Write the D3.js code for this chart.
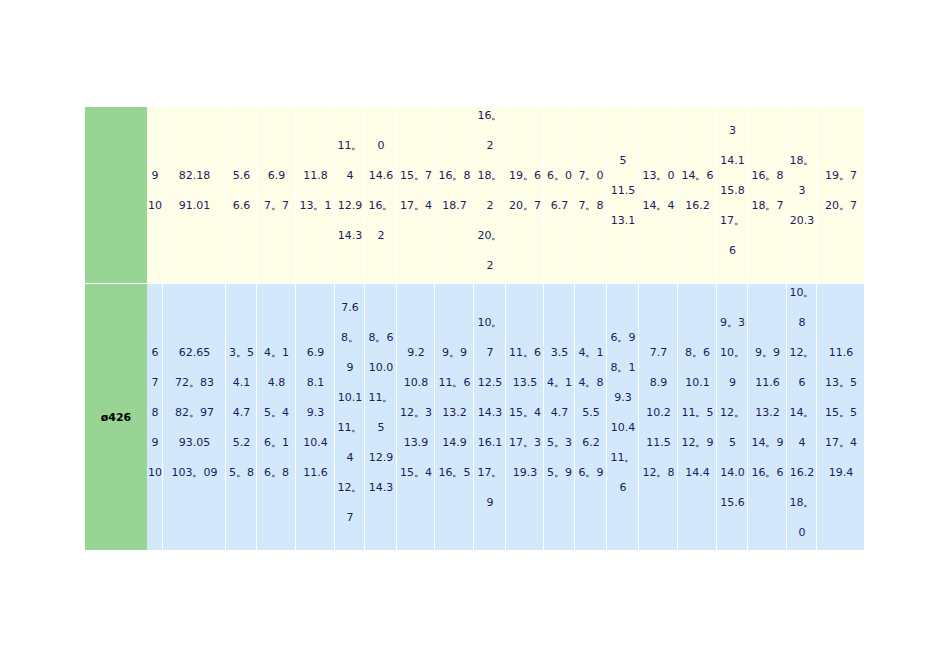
<!DOCTYPE html>
<html>
<head>
<meta charset="utf-8">
<script src="https://cdn.jsdelivr.net/npm/d3@7"></script>
<style>
  body { margin: 0; background: #fff; }
  text { font-family: "DejaVu Sans", sans-serif; }
</style>
</head>
<body>
<svg width="950" height="672"></svg>
<script>
const rowLabels = ['', 'ø426'];

const row1 = [
  ['9', '10'], ['82.18', '91.01'], ['5.6', '6.6'], ['6.9', '7。7'], ['11.8', '13。1'],
  ['11。4', '12.9', '14.3'], ['0', '14.6', '16。2'], ['15。7', '17。4'], ['16。8', '18.7'],
  ['16。2', '18。2', '20。2'], ['19。6', '20。7'], ['6。0', '6.7'], ['7。0', '7。8'],
  ['5', '11.5', '13.1'], ['13。0', '14。4'], ['14。6', '16.2'], ['3', '14.1', '15.8', '17。6'],
  ['16。8', '18。7'], ['18。3', '20.3'], ['19。7', '20。7']
];

const row2 = [
  ['6', '7', '8', '9', '10'],
  ['62.65', '72。83', '82。97', '93.05', '103。09'],
  ['3。5', '4.1', '4.7', '5.2', '5。8'],
  ['4。1', '4.8', '5。4', '6。1', '6。8'],
  ['6.9', '8.1', '9.3', '10.4', '11.6'],
  ['7.6', '8。9', '10.1', '11。4', '12。7'],
  ['8。6', '10.0', '11。5', '12.9', '14.3'],
  ['9.2', '10.8', '12。3', '13.9', '15。4'],
  ['9。9', '11。6', '13.2', '14.9', '16。5'],
  ['10。7', '12.5', '14.3', '16.1', '17。9'],
  ['11。6', '13.5', '15。4', '17。3', '19.3'],
  ['3.5', '4。1', '4.7', '5。3', '5。9'],
  ['4。1', '4。8', '5.5', '6.2', '6。9'],
  ['6。9', '8。1', '9.3', '10.4', '11。6'],
  ['7.7', '8.9', '10.2', '11.5', '12。8'],
  ['8。6', '10.1', '11。5', '12。9', '14.4'],
  ['9。3', '10。9', '12。5', '14.0', '15.6'],
  ['9。9', '11.6', '13.2', '14。9', '16。6'],
  ['10。8', '12。6', '14。4', '16.2', '18。0'],
  ['11.6', '13。5', '15。5', '17。4', '19.4']
];

const rows = [row1, row2];

// layout
const svg = d3.select('svg');
const colEdges = [147, 163, 226, 257, 296, 335, 365, 397, 435, 474, 506, 544, 575, 607, 639, 678, 717, 748, 787, 817, 865];
const rowEdges = [107, 284, 551];
const labelX0 = 85;
const rowFill = ['#fefee8', '#d3e8fa'];
const lineH = 30;

const measure = svg.append('text').attr('font-size', 11).attr('opacity', 0);
function textW(s) { measure.text(s); return measure.node().getComputedTextLength(); }

function wrap(v, w) {
  if (textW(v) <= w - 6) return [v];
  const i = v.indexOf('。');
  if (i >= 0) return [v.slice(0, i + 1), v.slice(i + 1)];
  return [v];
}

rows.forEach((row, r) => {
  const y0 = rowEdges[r], y1 = rowEdges[r + 1];
  svg.append('rect').attr('x', labelX0).attr('y', y0).attr('width', colEdges[0] - labelX0)
    .attr('height', y1 - y0 - 1).attr('fill', '#98d494');
  svg.append('text').attr('x', (labelX0 + colEdges[0]) / 2).attr('y', (y0 + y1) / 2)
    .attr('text-anchor', 'middle').attr('dominant-baseline', 'central')
    .attr('font-size', 11).attr('font-weight', 'bold').attr('fill', '#000')
    .text(rowLabels[r]);

  row.forEach((vals, c) => {
    const x0 = colEdges[c], x1 = colEdges[c + 1];
    svg.append('rect').attr('x', x0).attr('y', y0).attr('width', x1 - x0 - 1)
      .attr('height', y1 - y0 - 1).attr('fill', rowFill[r]);
    const lines = vals.flatMap(v => wrap(v, x1 - x0));
    const cy = (y0 + y1) / 2 - 5;
    svg.append('g').selectAll('text').data(lines).enter().append('text')
      .attr('x', (x0 + x1) / 2)
      .attr('y', (d, i) => cy + (i - (lines.length - 1) / 2) * lineH)
      .attr('text-anchor', 'middle').attr('dominant-baseline', 'central')
      .attr('font-size', 11).attr('fill', '#1c1c5c')
      .text(d => d);
  });
});
measure.remove();
</script>
</body>
</html>
